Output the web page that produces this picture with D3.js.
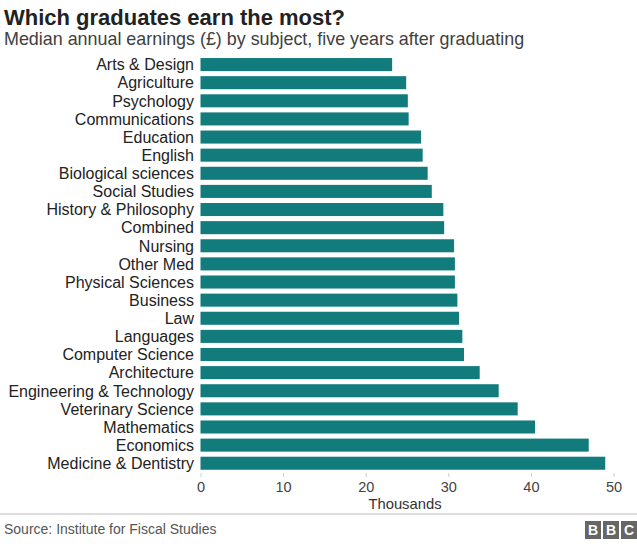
<!DOCTYPE html>
<html><head><meta charset="utf-8">
<script src="https://cdn.jsdelivr.net/npm/d3@7"></script>
<style>
html,body{margin:0;padding:0;background:#fff;}
svg text{font-family:"Liberation Sans",Arial,Helvetica,sans-serif;}
</style></head>
<body>
<svg id="chart" width="637" height="544"></svg>
<script>
const categories = ["Arts & Design","Agriculture","Psychology","Communications","Education","English","Biological sciences","Social Studies","History & Philosophy","Combined","Nursing","Other Med","Physical Sciences","Business","Law","Languages","Computer Science","Architecture","Engineering & Technology","Veterinary Science","Mathematics","Economics","Medicine & Dentistry"];
const earnings = [23.2,24.9,25.1,25.2,26.7,26.9,27.5,28.0,29.4,29.5,30.7,30.8,30.8,31.1,31.3,31.7,31.9,33.8,36.1,38.4,40.5,47.0,49.0];
const tickValues = [0,10,20,30,40,50];

const svg = d3.select("#chart");
const x = d3.scaleLinear().domain([0,50]).range([200.5,613.5]);
const y = d3.scaleBand().domain(categories).range([55.5,472.3]).paddingInner(0.28).paddingOuter(0.14);

svg.append("text").attr("x",4).attr("y",25).attr("font-size",22).attr("font-weight","bold").attr("fill","#222")
  .text("Which graduates earn the most?");
svg.append("text").attr("x",4).attr("y",45).attr("font-size",17.9).attr("fill","#404040")
  .text("Median annual earnings (£) by subject, five years after graduating");

svg.append("g").selectAll("rect").data(categories).join("rect")
  .attr("x",x(0)).attr("y",d=>y(d)).attr("height",y.bandwidth())
  .attr("width",(d,i)=>x(earnings[i])-x(0)).attr("fill","#127c7d");

svg.append("g").selectAll("text").data(categories).join("text")
  .attr("x",194).attr("y",d=>y(d)+y.bandwidth()/2).attr("dy","0.36em")
  .attr("text-anchor","end").attr("font-size",16).attr("fill","#222").text(d=>d);

const ax = svg.append("g").attr("transform","translate(0,473)")
  .call(d3.axisBottom(x).tickValues(tickValues).tickSize(4).tickPadding(5).tickFormat(d3.format("d")));
ax.select(".domain").remove();
ax.selectAll(".tick line").attr("stroke","#ccc");
ax.selectAll(".tick text").attr("font-size",14.5).attr("fill","#444").attr("font-family","Liberation Sans, Arial, sans-serif");

svg.append("text").attr("x",405).attr("y",509).attr("text-anchor","middle").attr("font-size",14.8).attr("fill","#333").text("Thousands");

svg.append("line").attr("x1",0).attr("x2",637).attr("y1",514).attr("y2",514).attr("stroke","#bbb").attr("stroke-width",1);
svg.append("text").attr("x",4).attr("y",534).attr("font-size",14).attr("fill","#555").text("Source: Institute for Fiscal Studies");

const bbc = ["B","B","C"];
const lg = svg.append("g");
bbc.forEach((c,i)=>{
  const bx = 585 + i*18;
  lg.append("rect").attr("x",bx).attr("y",521).attr("width",16).attr("height",18).attr("fill","#666");
  lg.append("text").attr("x",bx+8).attr("y",535).attr("text-anchor","middle").attr("font-size",14).attr("font-weight","bold").attr("fill","#fff").text(c);
});
</script>
</body></html>
